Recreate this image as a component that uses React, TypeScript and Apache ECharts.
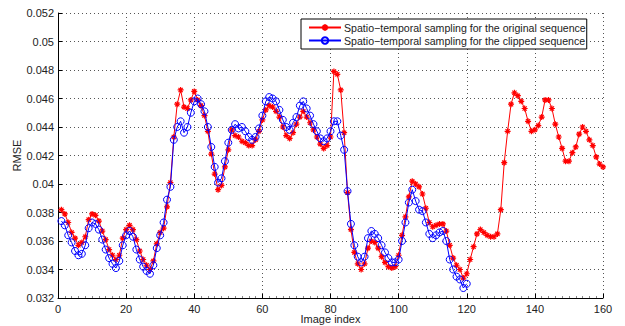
import React, { useEffect, useRef } from "react";
import * as echarts from "echarts";

const xTicks = [0, 20, 40, 60, 80, 100, 120, 140, 160];
const yTicks = [0.032, 0.034, 0.036, 0.038, 0.04, 0.042, 0.044, 0.046, 0.048, 0.05, 0.052];
const seriesNames = [
  "Spatio\u2212temporal sampling for the original sequence",
  "Spatio\u2212temporal sampling for the clipped sequence",
];
const firstIndex = 1;

const originalRmse = [
  0.0382, 0.0379, 0.0373, 0.0366, 0.0362, 0.0357, 0.0359, 0.0363, 0.0375, 0.0379,
  0.0378, 0.0374, 0.0367, 0.0361, 0.0354, 0.0350, 0.0347, 0.0350, 0.0362, 0.0368,
  0.0371, 0.0368, 0.0361, 0.0353, 0.0347, 0.0343, 0.0340, 0.0346, 0.0358, 0.0366,
  0.0369, 0.0384, 0.0401, 0.0433, 0.0456, 0.0466, 0.0454, 0.0453, 0.0459, 0.0465,
  0.0459, 0.0455, 0.0448, 0.0437, 0.0421, 0.0407, 0.0396, 0.0399, 0.0412, 0.0424,
  0.0438, 0.0434, 0.0433, 0.0430, 0.0429, 0.0427, 0.0427, 0.0431, 0.0437, 0.0445,
  0.0452, 0.0455, 0.0454, 0.0451, 0.0447, 0.0440, 0.0434, 0.0432, 0.0436, 0.0442,
  0.0447, 0.0451, 0.0447, 0.0443, 0.0438, 0.0433, 0.0428, 0.0425, 0.0427, 0.0433,
  0.0479, 0.0477, 0.0466, 0.0436, 0.0394, 0.0368, 0.0352, 0.0344, 0.0340, 0.0344,
  0.0355, 0.0360, 0.0359, 0.0355, 0.0349, 0.0345, 0.0342, 0.0341, 0.0342, 0.0350,
  0.0364, 0.0377, 0.0391, 0.0402, 0.0400, 0.0398, 0.0393, 0.0383, 0.0373, 0.0370,
  0.0371, 0.0372, 0.0372, 0.0367, 0.0357, 0.0348, 0.0343, 0.0340, 0.0334, 0.0337,
  0.0347, 0.0356, 0.0365, 0.0368, 0.0366, 0.0364, 0.0363, 0.0363, 0.0365, 0.0382,
  0.0415, 0.0437, 0.0456, 0.0464, 0.0462, 0.0458, 0.0453, 0.0444, 0.0437, 0.0438,
  0.0441, 0.0447, 0.0459, 0.0459, 0.0453, 0.0442, 0.0433, 0.0425, 0.0416, 0.0416,
  0.0422, 0.0426, 0.0435, 0.0440, 0.0437, 0.0431, 0.0427, 0.0419, 0.0414, 0.0412,
];

const clippedRmse = [
  0.0374, 0.0371, 0.0364, 0.0359, 0.0353, 0.0350, 0.0351, 0.0357, 0.0369, 0.0373,
  0.0372, 0.0368, 0.0361, 0.0354, 0.0348, 0.0344, 0.0341, 0.0346, 0.0357, 0.0364,
  0.0367, 0.0363, 0.0354, 0.0347, 0.0342, 0.0339, 0.0337, 0.0343, 0.0355, 0.0364,
  0.0373, 0.0389, 0.0398, 0.0431, 0.0440, 0.0444, 0.0436, 0.0440, 0.0450, 0.0458,
  0.0460, 0.0456, 0.0451, 0.0440, 0.0426, 0.0412, 0.0401, 0.0404, 0.0416, 0.0429,
  0.0438, 0.0442, 0.0439, 0.0440, 0.0437, 0.0433, 0.0431, 0.0433, 0.0439, 0.0448,
  0.0458, 0.0461, 0.0460, 0.0458, 0.0452, 0.0445, 0.0440, 0.0438, 0.0443, 0.0447,
  0.0455, 0.0458, 0.0453, 0.0448, 0.0442, 0.0437, 0.0432, 0.0430, 0.0432, 0.0437,
  0.0444, 0.0444, 0.0434, 0.0424, 0.0395, 0.0372, 0.0357, 0.0349, 0.0345, 0.0349,
  0.0362, 0.0367, 0.0365, 0.0362, 0.0357, 0.0352, 0.0348, 0.0345, 0.0345, 0.0347,
  0.0360, 0.0373, 0.0387, 0.0396, 0.0388, 0.0382, 0.0381, 0.0373, 0.0365, 0.0362,
  0.0364, 0.0366, 0.0367, 0.0360, 0.0347, 0.0340, 0.0335, 0.0333, 0.0327, 0.0330,
];

const STAR =
  "path://M0,-10L0,10M-10,0L10,0M-7,-7L7,7M-7,7L7,-7";

const FONT = "'Liberation Sans', Arial, Helvetica, sans-serif";

export default function App() {
  const ref = useRef<HTMLDivElement>(null);
  useEffect(() => {
    document.body.style.margin = "0";
    if (!ref.current) return;
    const chart = echarts.init(ref.current, undefined, { renderer: "svg" });
    const toPairs = (arr: number[]) => arr.map((v, i) => [i + firstIndex, v]);
    const fmtY = (v: number) => String(parseFloat(v.toFixed(3)));
    chart.setOption({
      animation: false,
      backgroundColor: "#ffffff",
      grid: {
        left: 58,
        right: 22,
        top: 13,
        bottom: 28,
        containLabel: false,
        outerBoundsMode: "none",
      },
      legend: {
        left: 301,
        top: 19,
        orient: "vertical",
        backgroundColor: "#ffffff",
        borderColor: "#000000",
        borderWidth: 1,
        borderRadius: 0,
        padding: [3, 1, 3, 7],
        itemGap: 2,
        itemWidth: 32,
        itemHeight: 8,
        textStyle: { fontFamily: FONT, fontSize: 10.6, color: "#222222", padding: [0, 0, 0, -2] },
        data: seriesNames,
      },
      xAxis: {
        type: "value",
        min: xTicks[0],
        max: xTicks[xTicks.length - 1],
        interval: xTicks[1] - xTicks[0],
        name: "Image index",
        nameLocation: "middle",
        nameGap: 21,
        nameMoveOverlap: false,
        nameTextStyle: { fontFamily: FONT, fontSize: 11, color: "#222222", verticalAlign: "middle" },
        axisLine: { show: true, onZero: false, lineStyle: { color: "#000000", width: 1 } },
        axisTick: { show: true, inside: true, length: 4, lineStyle: { color: "#000000" } },
        minorTick: { show: true, splitNumber: 10, length: 2, lineStyle: { color: "#888888" } },
        axisLabel: { fontFamily: FONT, fontSize: 11, color: "#222222", margin: 5 },
        splitLine: { show: true, lineStyle: { color: "#555555", type: [1, 3], width: 1 } },
      },
      yAxis: {
        type: "value",
        min: yTicks[0],
        max: yTicks[yTicks.length - 1],
        interval: 0.002,
        name: "RMSE",
        nameLocation: "middle",
        nameGap: 41,
        nameMoveOverlap: false,
        nameTextStyle: { fontFamily: FONT, fontSize: 11, color: "#222222", verticalAlign: "middle" },
        axisLine: { show: true, onZero: false, lineStyle: { color: "#000000", width: 1 } },
        axisTick: { show: true, inside: true, length: 4, lineStyle: { color: "#000000" } },
        axisLabel: { fontFamily: FONT, fontSize: 11, color: "#222222", margin: 4, formatter: fmtY },
        splitLine: { show: true, lineStyle: { color: "#555555", type: [1, 3], width: 1 } },
      },
      series: [
        {
          name: seriesNames[0],
          type: "line",
          data: toPairs(originalRmse),
          symbol: STAR,
          symbolSize: 6,
          showAllSymbol: true,
          lineStyle: { color: "#ff0000", width: 1 },
          itemStyle: { color: "#ff0000", borderColor: "#ff0000", borderWidth: 1.2 },
          z: 2,
        },
        {
          name: seriesNames[1],
          type: "line",
          data: toPairs(clippedRmse),
          symbol: "circle",
          symbolSize: 7,
          showAllSymbol: true,
          lineStyle: { color: "#0000ff", width: 1 },
          itemStyle: { color: "rgba(0,0,0,0)", borderColor: "#0000ff", borderWidth: 1 },
          z: 3,
        },
      ],
    });
    return () => chart.dispose();
  }, []);
  return (
    <div
      ref={ref}
      style={{ position: "fixed", left: 0, top: 0, width: 625, height: 326 }}
    />
  );
}
